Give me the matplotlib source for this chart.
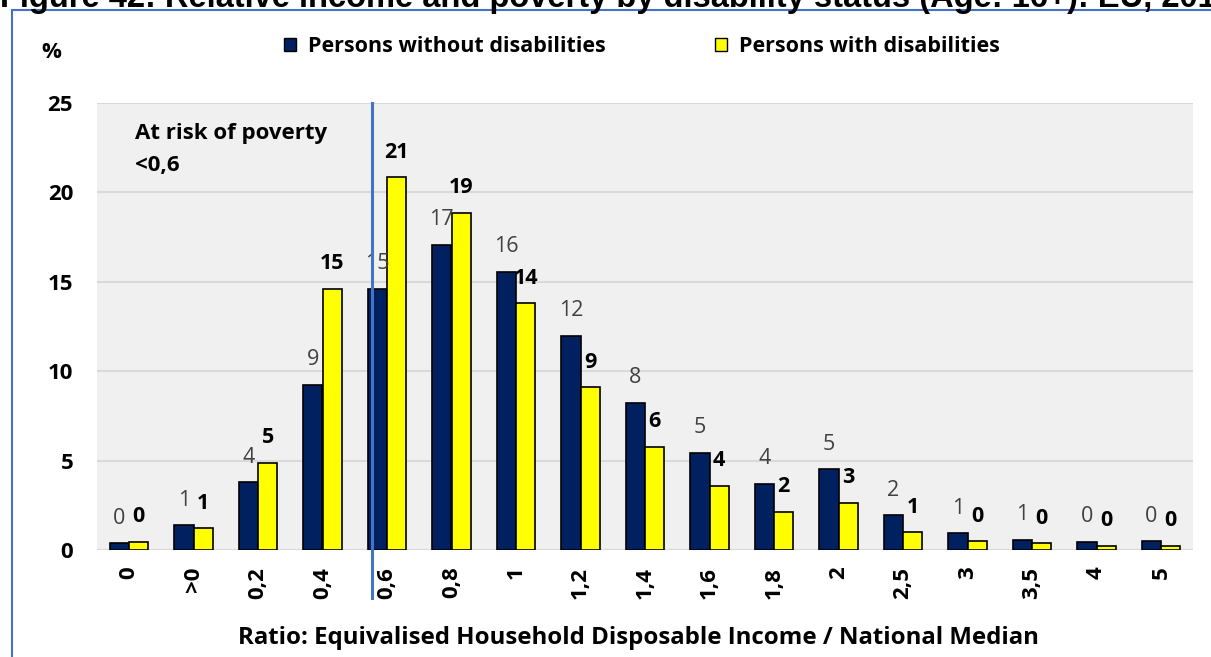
import matplotlib
matplotlib.use("Agg")
import matplotlib.pyplot as plt
from matplotlib.patches import Rectangle, Patch
import numpy as np

W, H = 1211, 657

categories = ["0", ">0", "0,2", "0,4", "0,6", "0,8", "1", "1,2", "1,4", "1,6",
              "1,8", "2", "2,5", "3", "3,5", "4", "5"]
without_dis = [0.37, 1.38, 3.79, 9.23, 14.6, 17.06, 15.55, 11.97, 8.24, 5.44,
               3.69, 4.51, 1.94, 0.93, 0.56, 0.45, 0.48]
with_dis = [0.45, 1.21, 4.87, 14.6, 20.84, 18.85, 13.8, 9.1, 5.78, 3.58,
            2.13, 2.65, 0.99, 0.49, 0.37, 0.22, 0.22]
series_names = ["Persons without disabilities", "Persons with disabilities"]
yticks = [0, 5, 10, 15, 20, 25]
poverty_line_pos = 3.763
title = "Figure 42: Relative income and poverty by disability status (Age: 16+): EU, 2018"
xlabel = "Ratio: Equivalised Household Disposable Income / National Median"

DARK = "#002060"
YEL = "#FFFF00"
FONT = ["Open Sans", "DejaVu Sans"]
plt.rcParams["font.family"] = FONT

fig = plt.figure(figsize=(W / 100, H / 100), dpi=100)

def fx(px):
    return px / W

def fy(py):
    return 1 - py / H

left, right, top, bottom = 96.75, 1193.25, 103, 550
ax = fig.add_axes([fx(left), fy(bottom), fx(right) - fx(left), fy(top) - fy(bottom)])
ax.set_facecolor("#F0F0F0")

x = np.arange(len(categories))
bw = 0.3
ax.bar(x - bw / 2, without_dis, bw, color=DARK, edgecolor="black", linewidth=1.2, zorder=3)
ax.bar(x + bw / 2, with_dis, bw, color=YEL, edgecolor="black", linewidth=1.2, zorder=3)

for xi, v in zip(x, without_dis):
    ax.annotate(f"{round(v):d}", (xi - bw / 2, v), xytext=(0, 10.5), textcoords="offset points",
                ha="center", va="bottom", fontsize=15.5, color="#404040", zorder=5)
for xi, v in zip(x, with_dis):
    ax.annotate(f"{round(v):d}", (xi + bw / 2, v), xytext=(0, 10.5), textcoords="offset points",
                ha="center", va="bottom", fontsize=15.5, color="black", fontweight="bold", zorder=5)

ax.set_xlim(-0.5, len(categories) - 0.5)
ax.set_ylim(0, 25)
ax.set_yticks(yticks)
ax.set_yticklabels([str(t) for t in yticks], fontsize=16, fontweight="bold")
ax.set_xticks(x)
ax.set_xticklabels(categories, rotation=90, fontsize=16, fontweight="bold")
ax.tick_params(axis="both", length=0)
ax.tick_params(axis="y", pad=17)
ax.tick_params(axis="x", pad=12)
ax.grid(axis="y", color="#D9D9D9", linewidth=1.5, zorder=0)
ax.set_axisbelow(True)
for s in ax.spines.values():
    s.set_visible(False)

ax.axvline(poverty_line_pos, ymin=-0.107, ymax=1, color="#4472C4", linewidth=2.2,
           clip_on=False, zorder=6)

ax.text(0.0349, 0.9195, "At risk of poverty", transform=ax.transAxes, fontsize=16,
        fontweight="bold", va="baseline", ha="left")
ax.text(0.0349, 0.8485, "<0,6", transform=ax.transAxes, fontsize=16,
        fontweight="bold", va="baseline", ha="left")

fig.text(fx(51), fy(52), "%", fontsize=16, fontweight="bold", ha="center", va="center")

fig.text(fx(638), fy(638), xlabel, fontsize=17.3, fontweight="bold", ha="center", va="center")

handles = [Patch(facecolor=DARK, edgecolor="black", linewidth=1.0),
           Patch(facecolor=YEL, edgecolor="black", linewidth=1.0)]
fig.legend(handles, series_names, loc="center", bbox_to_anchor=(fx(642), fy(47)), ncol=2,
           frameon=False, prop={"family": FONT, "weight": "bold", "size": 15.5},
           handlelength=0.56, handleheight=0.56, handletextpad=0.55, columnspacing=5.1)

fig.text(fx(0), fy(7), title, fontsize=23.5, fontweight="bold", ha="left", va="baseline",
         family=["Liberation Sans", "DejaVu Sans"])

fig.patches.append(Rectangle((fx(12), fy(700)), fx(1300), fy(10) - fy(700),
                             transform=fig.transFigure, fill=False, edgecolor="#4472C4",
                             linewidth=1.5, figure=fig))

fig.savefig("out.png", dpi=100)
